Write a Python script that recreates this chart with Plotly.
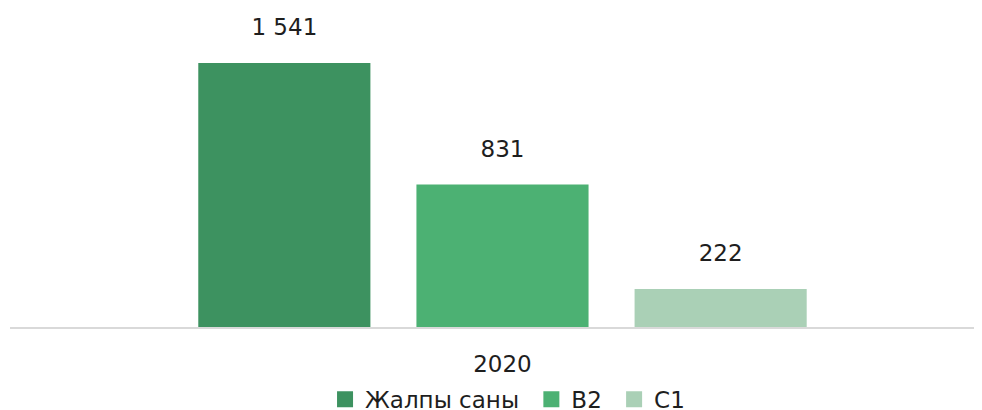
import plotly.graph_objects as go

categories = ["2020"]
series_names = ["Жалпы саны", "B2", "C1"]
series_values = [[1541], [831], [222]]
series_colors = ["#3d9260", "#4cb173", "#aad0b6"]

fig = go.Figure()
for i, (name, vals, color) in enumerate(zip(series_names, series_values, series_colors)):
    fig.add_trace(go.Bar(
        x=categories, y=vals, name=name, showlegend=False,
        marker=dict(color=color, line=dict(width=0)),
        # small empty second line lifts the label a bit off the bar
        texttemplate="<span style='font-size:23px'>%{y:,}</span><br>&nbsp;",
        textposition="outside",
        textfont=dict(size=16, color="#1e1e1e"),
        cliponaxis=False,
    ))
    # legend entry with a bigger square swatch (extra nbsp = wider item gap)
    legend_name = name + ("\u00a0" if i < len(series_names) - 1 else "")
    fig.add_trace(go.Scatter(
        x=[None], y=[None], name=legend_name, mode="markers",
        marker=dict(symbol="square", size=17, color=color),
    ))

# page body has an 8px margin, so the figure is 8px smaller each way
fig.update_layout(
    width=974, height=402,
    margin=dict(l=2, r=1, t=2, b=83, autoexpand=False),
    paper_bgcolor="white", plot_bgcolor="white",
    font=dict(family="DejaVu Sans", size=23, color="#1e1e1e"),
    separators=", ",
    barmode="group", bargap=0.326, bargroupgap=0.211,
    showlegend=True,
    legend=dict(orientation="h", x=0.5124, xanchor="center", y=-0.228, yanchor="middle",
                font=dict(size=23), itemwidth=30),
)
fig.update_xaxes(type="category", range=[-0.5072, 0.4928], showline=True,
                 linecolor="#d9d9d9", linewidth=2, ticks="", ticklabelstandoff=15,
                 showgrid=False, automargin=False)
fig.update_yaxes(range=[0, 1850], visible=False, showgrid=False, zeroline=False,
                 automargin=False)

fig.write_html("out.html")
